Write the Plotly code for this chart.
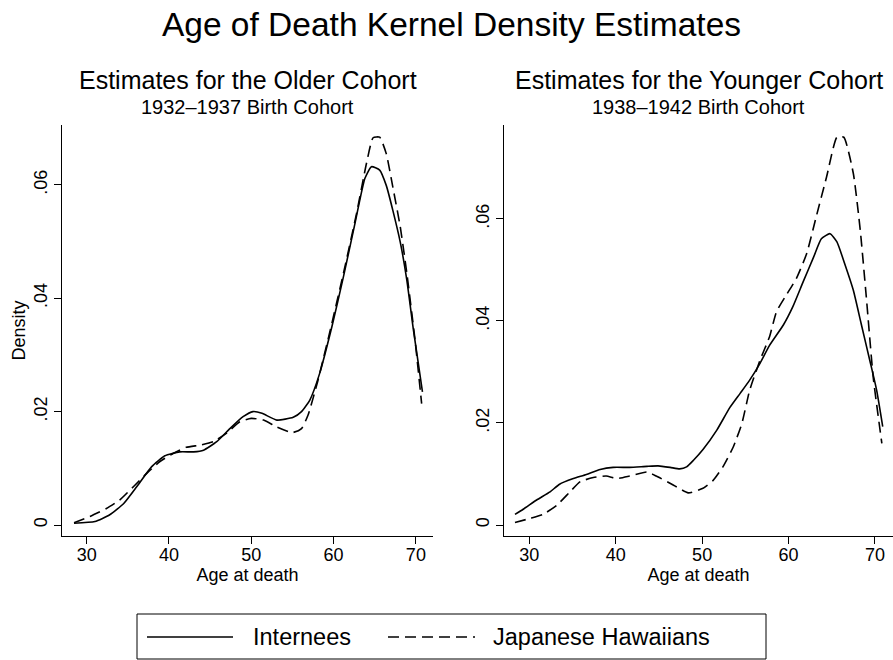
import plotly.graph_objects as go

# ---------------- data ----------------
older_internees_age = [28.46, 31.0, 32.8, 34.5, 36.1, 37.9, 39.5, 41.3, 43.0, 44.2, 45.8, 47.4, 49.0, 50.2, 51.3,
                       53.1, 55.1, 56.1, 57.1, 58.3, 59.8, 61.2, 62.6, 63.8, 64.6, 65.6, 66.4, 67.2, 68.1, 68.9,
                       69.7, 70.8]
older_internees_density = [0.0003, 0.0006, 0.0018, 0.0038, 0.0068, 0.0103, 0.0122, 0.0129, 0.0129, 0.0132, 0.0147,
                           0.0170, 0.0191, 0.0200, 0.0197, 0.0185, 0.0190, 0.0200, 0.0220, 0.0267, 0.0350, 0.0438,
                           0.0532, 0.0611, 0.0632, 0.0626, 0.0599, 0.0555, 0.0499, 0.0432, 0.0344, 0.0235]

older_hawaiians_age = [28.46, 30.4, 32.4, 34.0, 35.7, 37.3, 38.9, 40.5, 42.1, 43.8, 45.4, 47.0, 48.6, 50.0, 51.5,
                       53.1, 55.0, 56.1, 56.9, 58.1, 59.6, 61.2, 62.8, 64.0, 64.8, 65.6, 66.4, 67.2, 68.1, 68.9,
                       69.9, 70.7]
older_hawaiians_density = [0.0004, 0.0015, 0.0029, 0.0044, 0.0068, 0.0091, 0.0112, 0.0126, 0.0137, 0.0141, 0.0147,
                           0.0162, 0.0182, 0.0188, 0.0185, 0.0173, 0.0163, 0.0170, 0.0194, 0.0255, 0.0344, 0.0444,
                           0.0550, 0.0638, 0.0683, 0.0684, 0.0655, 0.0596, 0.0526, 0.0444, 0.0326, 0.0214]

younger_internees_age = [28.34, 29.3, 30.85, 32.4, 33.5, 35.1, 36.6, 38.2, 39.7, 41.6, 43.6, 44.9, 46.3, 47.4, 48.2,
                         49.0, 50.1, 51.7, 53.2, 54.4, 55.5, 56.7, 57.8, 59.4, 60.5, 61.7, 62.9, 63.8, 64.8, 65.6,
                         66.5, 67.5, 68.4, 69.4, 70.2, 70.9]
younger_internees_density = [0.0021, 0.0031, 0.0049, 0.0065, 0.0080, 0.0091, 0.0099, 0.0109, 0.0113, 0.0113, 0.0115,
                             0.0116, 0.0113, 0.0110, 0.0114, 0.0127, 0.0148, 0.0186, 0.0230, 0.0258, 0.0284, 0.0317,
                             0.0352, 0.0392, 0.0428, 0.0477, 0.0525, 0.0561, 0.0571, 0.0555, 0.0512, 0.0460, 0.0395,
                             0.0323, 0.0264, 0.0193]

younger_hawaiians_age = [28.34, 30.1, 31.6, 33.2, 34.7, 35.9, 37.4, 38.9, 40.1, 41.6, 43.6, 44.7, 46.7, 48.4, 50.1,
                         51.3, 52.4, 53.6, 54.6, 55.5, 56.7, 57.8, 58.6, 59.6, 60.9, 62.1, 63.2, 64.4, 65.6, 66.4,
                         67.5, 68.3, 69.0, 69.8, 70.8]
younger_hawaiians_density = [0.0005, 0.0013, 0.0021, 0.0039, 0.0065, 0.0085, 0.0093, 0.0096, 0.0091, 0.0096, 0.0104,
                             0.0096, 0.0078, 0.0063, 0.0072, 0.0088, 0.0114, 0.0153, 0.0199, 0.0264, 0.0323, 0.0369,
                             0.0418, 0.0447, 0.0483, 0.0532, 0.0604, 0.0682, 0.0760, 0.0760, 0.0689, 0.0578, 0.0447,
                             0.0290, 0.0160]

x_tick_values = [30, 40, 50, 60, 70]
y_tick_values = [0, 0.02, 0.04, 0.06]
y_tick_labels = ["0", ".02", ".04", ".06"]

series_names = ["Internees", "Japanese Hawaiians"]
main_title = "Age of Death Kernel Density Estimates"
panel_titles = ["Estimates for the Older Cohort", "Estimates for the Younger Cohort"]
panel_subtitles = ["1932\u20131937 Birth Cohort", "1938\u20131942 Birth Cohort"]
x_title = "Age at death"
y_title = "Density"

# ---------------- figure ----------------
W, H = 893, 660
FONT = "Liberation Sans, Arial, Helvetica, sans-serif"
DASH = "11px,6px"
LW = 1.6


def px_x(p):
    return p / W


def px_y(p):
    return 1 - p / H


fig = go.Figure()

fig.add_trace(go.Scatter(x=older_internees_age, y=older_internees_density, mode="lines", name=series_names[0],
                         line=dict(color="black", width=LW, shape="spline", smoothing=0.5),
                         xaxis="x", yaxis="y", showlegend=False))
fig.add_trace(go.Scatter(x=older_hawaiians_age, y=older_hawaiians_density, mode="lines", name=series_names[1],
                         line=dict(color="black", width=LW, dash=DASH, shape="spline", smoothing=0.5),
                         xaxis="x", yaxis="y", showlegend=False))
fig.add_trace(go.Scatter(x=younger_internees_age, y=younger_internees_density, mode="lines", name=series_names[0],
                         line=dict(color="black", width=LW, shape="spline", smoothing=0.5),
                         xaxis="x2", yaxis="y2", showlegend=False))
fig.add_trace(go.Scatter(x=younger_hawaiians_age, y=younger_hawaiians_density, mode="lines", name=series_names[1],
                         line=dict(color="black", width=LW, dash=DASH, shape="spline", smoothing=0.5),
                         xaxis="x2", yaxis="y2", showlegend=False))

axis_common = dict(showgrid=False, zeroline=False, showline=True, linecolor="black", linewidth=1,
                   ticks="outside", ticklen=7, tickwidth=1, tickcolor="black",
                   tickfont=dict(family=FONT, size=18, color="black"), mirror=False)

left_dom = [px_x(62), px_x(433)]
right_dom = [px_x(504), 1.0]
y_dom = [px_y(536), px_y(125)]

fig.update_layout(
    width=W, height=H,
    margin=dict(l=0, r=0, t=0, b=0),
    paper_bgcolor="white", plot_bgcolor="white",
    font=dict(family=FONT, color="black"),
    showlegend=False,
    title=dict(text=main_title, x=px_x(451.5), xanchor="center", y=px_y(24), yanchor="middle",
               font=dict(family=FONT, size=33.5, color="black")),
    xaxis=dict(domain=left_dom, range=[27.0, 72.08], tickvals=x_tick_values, anchor="y", ticklabelstandoff=-5,
               title=dict(text=x_title, font=dict(family=FONT, size=18), standoff=3), **axis_common),
    yaxis=dict(domain=y_dom, range=[-0.00194, 0.07055], tickvals=y_tick_values, ticktext=y_tick_labels,
               tickangle=-90, anchor="x",
               title=dict(text=y_title, font=dict(family=FONT, size=18), standoff=0), **axis_common),
    xaxis2=dict(domain=right_dom, range=[27.07, 72.09], tickvals=x_tick_values, anchor="y2", ticklabelstandoff=-5,
                title=dict(text=x_title, font=dict(family=FONT, size=18), standoff=3), **axis_common),
    yaxis2=dict(domain=y_dom, range=[-0.00215, 0.0784], tickvals=y_tick_values, ticktext=y_tick_labels,
                tickangle=-90, anchor="x2", **axis_common),
)

# panel titles / subtitles
for i, (t, s) in enumerate(zip(panel_titles, panel_subtitles)):
    cx = (left_dom[0] + left_dom[1]) / 2 if i == 0 else (right_dom[0] + right_dom[1]) / 2
    fig.add_annotation(text=t, x=cx, y=px_y(80), xref="paper", yref="paper", showarrow=False,
                       xanchor="center", yanchor="middle", font=dict(family=FONT, size=25, color="black"))
    fig.add_annotation(text=s, x=cx, y=px_y(107), xref="paper", yref="paper", showarrow=False,
                       xanchor="center", yanchor="middle", font=dict(family=FONT, size=20, color="black"))

# legend box drawn below the panels
fig.add_shape(type="rect", xref="paper", yref="paper", x0=px_x(137), x1=px_x(766), y0=px_y(659), y1=px_y(614),
              line=dict(color="black", width=1), fillcolor="white")
fig.add_shape(type="line", xref="paper", yref="paper", x0=px_x(147), x1=px_x(233), y0=px_y(637), y1=px_y(637),
              line=dict(color="black", width=LW))
fig.add_shape(type="line", xref="paper", yref="paper", x0=px_x(388), x1=px_x(475), y0=px_y(637), y1=px_y(637),
              line=dict(color="black", width=LW, dash=DASH))
fig.add_annotation(text=series_names[0], x=px_x(251), y=px_y(637), xref="paper", yref="paper", showarrow=False,
                   xanchor="left", yanchor="middle", font=dict(family=FONT, size=23.5, color="black"))
fig.add_annotation(text=series_names[1], x=px_x(491), y=px_y(637), xref="paper", yref="paper", showarrow=False,
                   xanchor="left", yanchor="middle", font=dict(family=FONT, size=23.5, color="black"))

fig.write_html("out.html", config={"displayModeBar": False},
               post_script="document.body.style.margin='0';")
